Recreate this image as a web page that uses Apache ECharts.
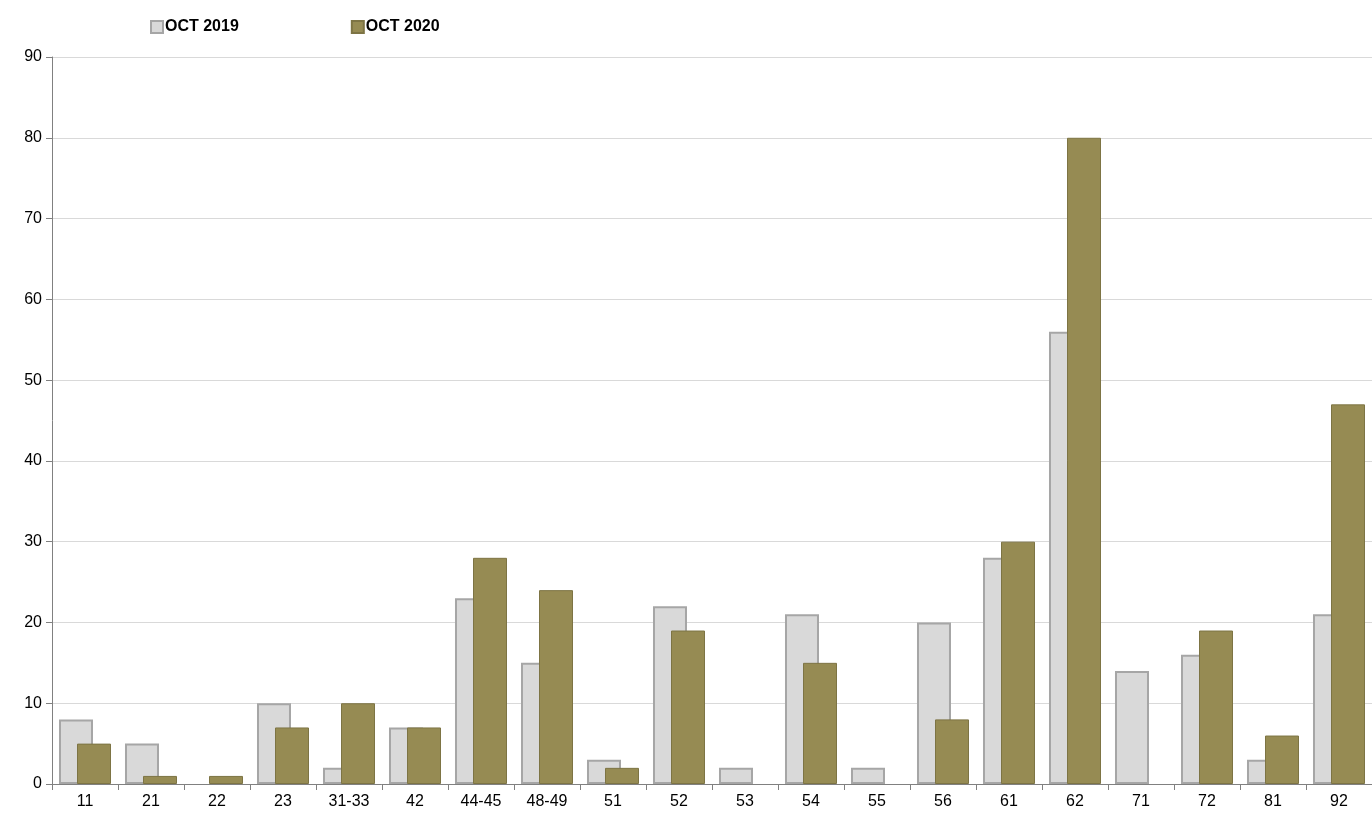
<!DOCTYPE html>
<html>
<head>
<meta charset="utf-8">
<script src="https://cdn.jsdelivr.net/npm/echarts@6/dist/echarts.min.js"></script>
<style>html,body{margin:0;padding:0;background:#fff}#main{width:1372px;height:816px}</style>
</head>
<body>
<div id="main"></div>
<script>
var categories = ['11','21','22','23','31-33','42','44-45','48-49','51','52','53','54','55','56','61','62','71','72','81','92'];
var oct2019 = [8,5,0,10,2,7,23,15,3,22,2,21,2,20,28,56,14,16,3,21];
var oct2020 = [5,1,1,7,10,7,28,24,2,19,0,15,0,8,30,80,0,19,6,47];

// zero values draw no bar
function hideZero(arr) { return arr.map(function (v) { return v === 0 ? null : v; }); }

var chart = echarts.init(document.getElementById('main'));
chart.setOption({
    animation: false,
    textStyle: {fontFamily: 'Liberation Sans, Arial, sans-serif'},
    legend: {
        left: 145, top: 14, itemWidth: 12, itemHeight: 12, itemGap: 112, icon: 'rect',
        textStyle: {fontWeight: 'bold', fontSize: 16, color: '#000', padding: [0, 0, 0, -3]},
        data: ['OCT 2019', 'OCT 2020']
    },
    grid: {left: 52, right: 0, top: 57, bottom: 32},
    xAxis: {
        type: 'category', data: categories,
        axisLine: {lineStyle: {color: '#808080'}},
        axisTick: {show: true, lineStyle: {color: '#808080'}, length: 6},
        axisLabel: {color: '#000', fontSize: 16, margin: 10}
    },
    yAxis: {
        type: 'value', min: 0, max: 90, interval: 10,
        axisLine: {show: true, lineStyle: {color: '#808080'}},
        axisTick: {show: true, lineStyle: {color: '#808080'}, length: 6},
        axisLabel: {color: '#000', fontSize: 16, margin: 10},
        splitLine: {lineStyle: {color: '#d9d9d9'}}
    },
    series: [
        {name: 'OCT 2019', type: 'bar', data: hideZero(oct2019), barWidth: 34, barGap: '-47%',
         itemStyle: {color: '#d9d9d9', borderColor: '#a6a6a6', borderWidth: 2}},
        {name: 'OCT 2020', type: 'bar', data: hideZero(oct2020), barWidth: 34,
         itemStyle: {color: '#968b53', borderColor: '#7d7444', borderWidth: 1}}
    ]
});
</script>
</body>
</html>
